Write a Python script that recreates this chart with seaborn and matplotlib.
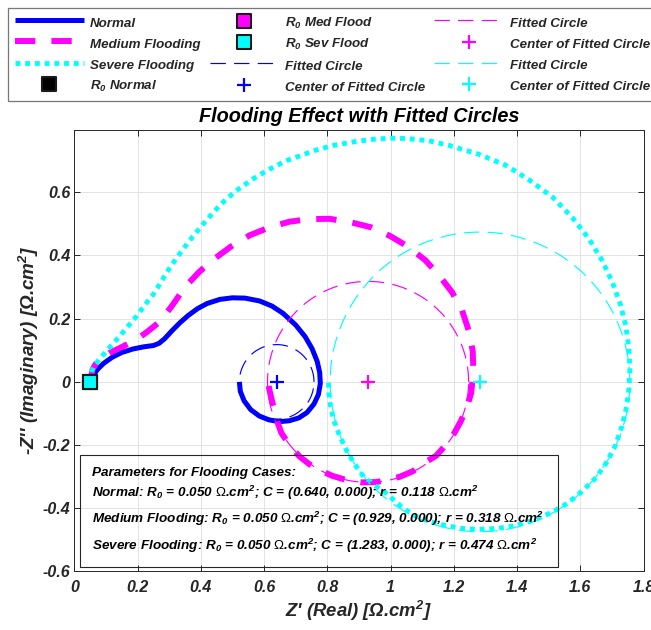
import numpy as np
import pandas as pd
import matplotlib
matplotlib.use("Agg")
import matplotlib.pyplot as plt
import seaborn as sns
from matplotlib.patches import Rectangle

# ---------------- data ----------------
normal_x = [0.050, 0.060, 0.072, 0.092, 0.120, 0.150, 0.185, 0.220, 0.250, 0.268,
            0.285, 0.310, 0.335, 0.360, 0.390, 0.420, 0.460, 0.500, 0.540, 0.586,
            0.625, 0.660, 0.700, 0.730, 0.752, 0.768, 0.776, 0.778, 0.772, 0.758,
            0.736, 0.710, 0.680, 0.648, 0.615, 0.585, 0.558, 0.537, 0.525, 0.522]
normal_y = [0.000, 0.020, 0.038, 0.058, 0.078, 0.093, 0.104, 0.111, 0.115, 0.122,
            0.136, 0.163, 0.188, 0.210, 0.232, 0.248, 0.261, 0.266, 0.265, 0.256,
            0.240, 0.217, 0.180, 0.143, 0.105, 0.065, 0.030, -0.005, -0.040, -0.070,
            -0.097, -0.114, -0.123, -0.126, -0.120, -0.108, -0.088, -0.060, -0.030, 0.000]

medium_x = [0.050, 0.058, 0.068, 0.087, 0.115, 0.140, 0.165, 0.195, 0.230, 0.270,
            0.310, 0.350, 0.395, 0.441, 0.495, 0.555, 0.620, 0.681, 0.745, 0.807,
            0.870, 0.939, 1.000, 1.055, 1.110, 1.155, 1.195, 1.226, 1.248, 1.260,
            1.262, 1.255, 1.240, 1.222, 1.200, 1.170, 1.144, 1.114, 1.070, 1.030,
            0.997, 0.955, 0.910, 0.862, 0.815, 0.776, 0.744, 0.712, 0.682, 0.655,
            0.638, 0.627, 0.618, 0.612]
medium_y = [0.000, 0.040, 0.057, 0.076, 0.094, 0.105, 0.118, 0.133, 0.158, 0.190,
            0.242, 0.300, 0.348, 0.388, 0.428, 0.464, 0.490, 0.507, 0.515, 0.516,
            0.506, 0.489, 0.461, 0.428, 0.385, 0.335, 0.283, 0.227, 0.160, 0.097,
            0.030, -0.035, -0.085, -0.125, -0.165, -0.205, -0.234, -0.252, -0.283, -0.300,
            -0.309, -0.317, -0.318, -0.311, -0.297, -0.279, -0.261, -0.236, -0.202, -0.162,
            -0.115, -0.067, -0.030, 0.000]

severe_x = [0.050, 0.056, 0.062, 0.079, 0.097, 0.115, 0.144, 0.170, 0.197, 0.222,
            0.250, 0.272, 0.292, 0.318, 0.344, 0.375, 0.407, 0.443, 0.481, 0.522,
            0.565, 0.615, 0.671, 0.713, 0.760, 0.818, 0.892, 0.950, 0.997, 1.050,
            1.120, 1.186, 1.280, 1.365, 1.440, 1.513, 1.575, 1.628, 1.670, 1.702,
            1.727, 1.744, 1.754, 1.757, 1.754, 1.747, 1.732, 1.710, 1.682, 1.650,
            1.605, 1.560, 1.510, 1.455, 1.395, 1.334, 1.280, 1.228, 1.175, 1.123,
            1.080, 1.040, 0.986, 0.948, 0.915, 0.885, 0.860, 0.838, 0.820, 0.810,
            0.805, 0.804]
severe_y = [0.000, 0.035, 0.050, 0.071, 0.092, 0.113, 0.145, 0.176, 0.208, 0.242,
            0.277, 0.312, 0.346, 0.384, 0.420, 0.460, 0.499, 0.540, 0.579, 0.612,
            0.642, 0.672, 0.700, 0.715, 0.732, 0.748, 0.761, 0.768, 0.771, 0.770,
            0.763, 0.748, 0.720, 0.685, 0.638, 0.584, 0.520, 0.452, 0.383, 0.314,
            0.245, 0.177, 0.105, 0.039, -0.020, -0.077, -0.140, -0.204, -0.257, -0.303,
            -0.347, -0.384, -0.413, -0.437, -0.455, -0.464, -0.467, -0.464, -0.455, -0.442,
            -0.425, -0.400, -0.352, -0.326, -0.300, -0.258, -0.215, -0.168, -0.120, -0.075,
            -0.035, 0.000]

case_names = ["Normal", "Medium Flooding", "Severe Flooding"]
r0_labels = ["R$_0$ Normal", "R$_0$ Med Flood", "R$_0$ Sev Flood"]
r0_values = [0.050, 0.050, 0.050]
center_x = [0.640, 0.929, 1.283]
center_y = [0.000, 0.000, 0.000]
radius = [0.118, 0.318, 0.474]

x_ticks = [0, 0.2, 0.4, 0.6, 0.8, 1.0, 1.2, 1.4, 1.6, 1.8]
x_tick_labels = ["0", "0.2", "0.4", "0.6", "0.8", "1", "1.2", "1.4", "1.6", "1.8"]
y_ticks = [-0.6, -0.4, -0.2, 0, 0.2, 0.4, 0.6]
y_tick_labels = ["-0.6", "-0.4", "-0.2", "0", "0.2", "0.4", "0.6"]

colors = ["#0000ff", "#ff00ff", "#00ffff"]
r0_colors = ["#000000", "#ff00ff", "#00ffff"]

# ---------------- style ----------------
sns.set_theme(style="whitegrid")
plt.rcParams["font.family"] = ["Liberation Sans", "DejaVu Sans"]
plt.rcParams["font.weight"] = "bold"
plt.rcParams["font.style"] = "italic"
plt.rcParams["axes.titleweight"] = "bold"
plt.rcParams["axes.labelweight"] = "bold"
plt.rcParams["mathtext.fontset"] = "custom"
plt.rcParams["mathtext.rm"] = "Liberation Sans:italic:bold"
plt.rcParams["mathtext.it"] = "Liberation Sans:italic:bold"
plt.rcParams["mathtext.bf"] = "Liberation Sans:italic:bold"
plt.rcParams["mathtext.sf"] = "Liberation Sans:style=normal:weight=normal"

fig = plt.figure(figsize=(6.51, 6.30), dpi=100)
fig.patch.set_facecolor("white")
ax = fig.add_axes([0.11413, 0.09286, 0.87435, 0.70079])
ax.set_facecolor("white")

curves = [(normal_x, normal_y), (medium_x, medium_y), (severe_x, severe_y)]
styles = [dict(linewidth=3.6, linestyle="-", solid_capstyle="butt"),
          dict(linewidth=4.3, linestyle=(0, (3.4, 2.7))),
          dict(linewidth=3.5, linestyle=(0, (1.0, 1.0)))]
for (cx, cy), name, col, st in zip(curves, case_names, colors, styles):
    df = pd.DataFrame({"x": cx, "y": cy})
    sns.lineplot(data=df, x="x", y="y", sort=False, estimator=None, color=col,
                 label=name, ax=ax, zorder=2, **st)

for r0, lab, col in zip(r0_values, r0_labels, r0_colors):
    sns.scatterplot(x=[r0], y=[0.0], marker="s", s=95, color=col,
                    edgecolor="#1a1a1a", linewidth=1.5, label=lab, ax=ax, zorder=4)

theta = np.linspace(0, 2 * np.pi, 361)
for cxv, cyv, rv, col in zip(center_x, center_y, radius, colors):
    dfc = pd.DataFrame({"x": cxv + rv * np.cos(theta), "y": cyv + rv * np.sin(theta)})
    sns.lineplot(data=dfc, x="x", y="y", sort=False, estimator=None, color=col,
                 linewidth=0.85, linestyle=(0, (13, 7)), label="Fitted Circle",
                 ax=ax, zorder=3)
    sns.scatterplot(x=[cxv], y=[cyv], marker="+", s=110, color=col, linewidth=1.6,
                    label="Center of Fitted Circle", ax=ax, zorder=5)

# ---------------- axes ----------------
ax.set_xlim(0, 1.8)
ax.set_ylim(-0.6, 0.797)
ax.set_xticks(x_ticks)
ax.set_xticklabels(x_tick_labels)
ax.set_yticks(y_ticks)
ax.set_yticklabels(y_tick_labels)
ax.grid(True, color="#e3e3e3", linewidth=0.7)
for sp in ax.spines.values():
    sp.set_color("#262626")
    sp.set_linewidth(0.7)
ax.tick_params(axis="both", which="both", direction="in", length=4, width=0.7,
               color="#262626", labelcolor="#262626", labelsize=11.5,
               bottom=True, left=True, top=True, right=True)
ax.tick_params(axis="x", pad=6)
ax.tick_params(axis="y", pad=3)

ax.set_xlabel("Z' (Real) [$\\Omega$.cm$^2$]", fontsize=13.3, color="#262626")
ax.set_ylabel("-Z'' (Imaginary) [$\\Omega$.cm$^2$]", fontsize=13.6, color="#262626")
ax.xaxis.set_label_coords(0.5, -0.063)
ax.yaxis.set_label_coords(-0.058, 0.5)
ax.set_title("Flooding Effect with Fitted Circles", fontsize=14.3, color="black", pad=6)

# ---------------- parameter box ----------------
ax.add_patch(Rectangle((0.0100, 0.0095), 0.8403, 0.2544, transform=ax.transAxes,
                       fill=False, edgecolor="#262626", linewidth=0.8, zorder=6))
ax.text(0.0306, 0.2163, "Parameters for Flooding Cases:", transform=ax.transAxes,
        fontsize=9.7, va="baseline", ha="left", color="black", zorder=7)
line_y = [0.1694, 0.1092, 0.0487]
short_names = ["Normal", "Medium Flooding", "Severe Flooding"]
for nm, r0, cxv, cyv, rv, yy in zip(short_names, r0_values, center_x, center_y, radius, line_y):
    s = (f"{nm}: R$_0$ = {r0:.3f} $\\mathsf{{\\Omega}}$.cm$^2$; "
         f"C = ({cxv:.3f}, {cyv:.3f}); r = {rv:.3f} $\\mathsf{{\\Omega}}$.cm$^2$")
    ax.text(0.0306, yy, s, transform=ax.transAxes, fontsize=9.7, va="baseline",
            ha="left", color="black", zorder=7)

# ---------------- legend ----------------
handles, labels = ax.get_legend_handles_labels()
if ax.get_legend() is not None:
    ax.get_legend().remove()
leg = fig.legend(handles, labels, ncol=3, loc="upper left",
                 bbox_to_anchor=(8 / 651, 1 - 7.5 / 630), bbox_transform=fig.transFigure,
                 borderaxespad=0, frameon=True, fancybox=False, fontsize=9.6,
                 handlelength=5.2, handleheight=1.5, handletextpad=0.45,
                 columnspacing=0.68, labelspacing=0.36, borderpad=0.5,
                 scatterpoints=1)
leg.get_frame().set_edgecolor("#555555")
leg.get_frame().set_linewidth(0.9)
leg.get_frame().set_facecolor("white")

fig.savefig("out.png", dpi=100)
